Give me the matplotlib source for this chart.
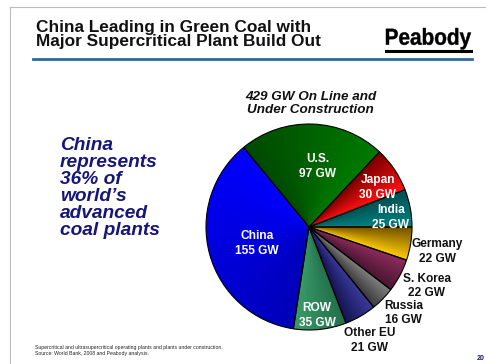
import numpy as np
import matplotlib.pyplot as plt
from matplotlib.colors import to_rgb
from matplotlib.textpath import TextPath
from matplotlib.font_manager import FontProperties
from matplotlib.patches import PathPatch
from matplotlib.transforms import Affine2D

plt.rcParams['font.family'] = ['Liberation Sans', 'DejaVu Sans']

# capacity on line and under construction (GW), counter-clockwise from 3 o'clock
regions = ['India', 'Japan', 'U.S.', 'China', 'ROW', 'Other EU', 'Russia', 'S. Korea', 'Germany']
capacity = [25, 30, 97, 155, 35, 21, 16, 22, 22]
# gradient colour at the clockwise edge -> colour at the counter-clockwise edge
start_colors = ['#008282', '#ff1010', '#007a00', '#0000ff', '#3a9a68', '#151555', '#3a3a3a', '#4a1530', '#ffcc00']
end_colors = ['#005050', '#7a0000', '#004a00', '#0000b8', '#23714b', '#3a3a9a', '#808080', '#8c2c5c', '#705000']
label_dist = [0.80, 0.77, 0.59, 0.53, 0.86, 1.25, 1.24, 1.28, 1.27]
label_nudge = [-4, -4, -6, 2, -1, -2, 2, 1.5, -1.5]
inside = [True, True, True, True, True, False, False, False, False]

W, H = 486, 364
fig = plt.figure(figsize=(W / 100, H / 100), dpi=100)
fig.patch.set_facecolor('white')


def fx(x):
    return x / W


def fy(y):
    return 1 - y / H


# slide frame and header rule
fig.add_artist(plt.Line2D([fx(10), fx(486)], [fy(7), fy(7)], color='#bbbbbb', lw=0.8))
fig.add_artist(plt.Line2D([fx(10), fx(10)], [fy(7), fy(364)], color='#bbbbbb', lw=0.8))
fig.add_artist(plt.Line2D([fx(33), fx(472)], [fy(58.5), fy(58.5)], color='#336699', lw=2.0))

fig.text(fx(36), fy(34.5), 'China Leading in Green Coal with\nMajor Supercritical Plant Build Out',
         fontsize=12.4, fontweight='bold', color='#111111', va='center', ha='left', linespacing=0.95)

# company mark: bold text squeezed into a narrow box
tp = TextPath((0, 0), 'Peabody', size=20, prop=FontProperties(family='Liberation Sans', weight='bold'))
bb = tp.get_extents()
x0, x1, ytop, ybot = 386, 471, 28, 49.5
sx = (fx(x1) - fx(x0)) / bb.width
sy = (fy(ytop) - fy(ybot)) / bb.height
trans = Affine2D().translate(-bb.x0, -bb.y0).scale(sx, sy).translate(fx(x0), fy(ybot))
fig.add_artist(PathPatch(trans.transform_path(tp), facecolor='black', edgecolor='black', lw=0.3,
                         transform=fig.transFigure))
fig.add_artist(plt.Line2D([fx(386), fx(471)], [fy(50.5), fy(50.5)], color='black', lw=2.2))

fig.text(fx(60), fy(137), 'China\nrepresents\n36% of\nworld\u2019s\nadvanced\ncoal plants',
         fontsize=13.8, fontweight='bold', style='italic', color='#16167a', ha='left', va='top',
         linespacing=1.0)

fig.text(fx(35), fy(350.5), 'Supercritical and ultrasupercritical operating plants and plants under construction.\n'
         'Source: World Bank, 2008 and Peabody analysis.', fontsize=3.7, color='#222222',
         ha='left', va='center', linespacing=1.3)
fig.text(fx(481), fy(358), '20', fontsize=5, fontweight='bold', color='#16167a', ha='center', va='center')

fig.text(fx(310.5), fy(103.5), '429 GW On Line and\nUnder Construction', fontsize=9.7,
         fontweight='bold', style='italic', color='#111111', ha='center', va='center', linespacing=1.2)

# pie axes
cx, cy, r = 309, 227, 103
ax = fig.add_axes([fx(cx - r), fy(cy + r), 2 * r / W, 2 * r / H])
ax.set_aspect('equal')
ax.axis('off')

wedges, _ = ax.pie(capacity, startangle=0, counterclock=True, radius=1,
                   colors=['none'] * len(capacity),
                   wedgeprops=dict(edgecolor='black', linewidth=0.8))
ax.set_xlim(-1, 1)
ax.set_ylim(-1, 1)

# angular gradient fill for each slice
n = 400
gx, gy = np.meshgrid(np.linspace(-1, 1, n), np.linspace(-1, 1, n))
ang = np.degrees(np.arctan2(gy, gx)) % 360
for w, c0, c1 in zip(wedges, start_colors, end_colors):
    t = np.clip((ang - w.theta1) / (w.theta2 - w.theta1), 0, 1)[..., None]
    img = np.array(to_rgb(c0)) * (1 - t) + np.array(to_rgb(c1)) * t
    im = ax.imshow(img, extent=[-1, 1, -1, 1], origin='lower', zorder=0.5, interpolation='bilinear')
    im.set_clip_path(w)
    w.set_zorder(1)

for w, name, val, d, nud, ins in zip(wedges, regions, capacity, label_dist, label_nudge, inside):
    mid = np.radians((w.theta1 + w.theta2) / 2 + nud)
    ax.text(d * np.cos(mid), d * np.sin(mid), f'{name}\n{val} GW', ha='center', va='center',
            fontsize=8.6, fontweight='bold', color='white' if ins else '#111111',
            linespacing=1.3, zorder=3)

fig.savefig('out.png', dpi=100)
